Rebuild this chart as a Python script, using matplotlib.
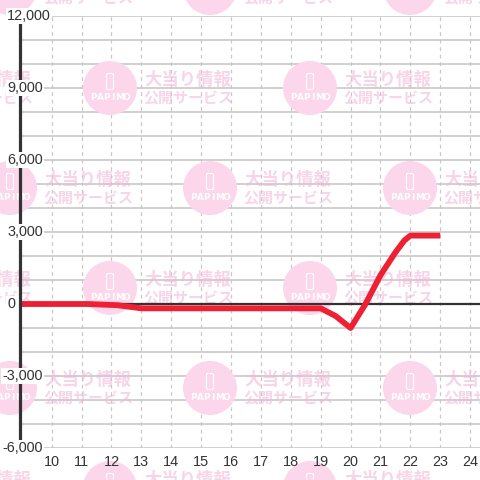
# -*- coding: utf-8 -*-

import numpy as np
from matplotlib import pyplot as plt
from matplotlib import transforms
from matplotlib.patches import Circle, FancyBboxPatch

# slump graph values (hour of day -> balance)
hours = [9, 11.2, 12.2, 13, 19, 19.5, 20, 20.5, 21, 21.5, 21.8, 22, 23]
values = [0, 0, -50, -180, -180, -500, -1000, 0, 1200, 2150, 2650, 2850, 2850]

x_ticks = list(range(10, 25))
y_ticks = [-6000, -3000, 0, 3000, 6000, 9000, 12000]
y_labels = ['-6,000', '-3,000', '0', '3,000', '6,000', '9,000', '12,000']

# watermark tiles (pixel centres of the circles)
wm_rows = [-12, 88, 188, 288, 388, 488]
wm_cols = {-12: [10, 210, 410], 88: [-90, 110, 310, 510], 188: [10, 210, 410],
           288: [-90, 110, 310, 510], 388: [10, 210, 410], 488: [-90, 110, 310]}
wm_line1 = '大当り情報'
wm_line2 = '公開サービス'
wm_logo = 'PAPIMO'


def slump_plot():
    plt.rcParams['font.family'] = ['Liberation Sans', 'DejaVu Sans']
    fig = plt.figure(figsize=(4.8, 4.8), dpi=100, facecolor='white')
    ax = fig.add_axes([20 / 480, 32 / 480, 460 / 480, 432 / 480])
    ax.set_facecolor('white')

    ax.set_xlim(8.94, 24.33)
    ax.set_ylim(-6000, 12000)

    # grid
    for y in range(-6000, 12001, 1000):
        ax.axhline(y, color='#c8c8c8', lw=1.2, zorder=0.5)
    for x in x_ticks:
        ax.axvline(x, color='#c8c8c8', lw=0.9, ls=(0, (3, 3)), zorder=0.5)

    # watermark, drawn in pixel coords (origin top-left)
    px = transforms.Affine2D().scale(1 / 100, -1 / 100).translate(0, 4.8) + fig.dpi_scale_trans
    for row in wm_rows:
        for cx in wm_cols[row]:
            ax.add_patch(Circle((cx, row), 27, transform=px, facecolor='#fcd6eb',
                                edgecolor='none', clip_on=False, zorder=1))
            ax.add_patch(FancyBboxPatch((cx - 3.5, row - 14.5), 7, 16, boxstyle='round,pad=0,rounding_size=1.5',
                                        transform=px, facecolor='none', edgecolor='white',
                                        lw=0.8, clip_on=False, zorder=1.1))
            for i, ch in enumerate(wm_logo):
                ax.text(cx - 16.5 + i * 6.6, row + 10, ch, transform=px, ha='center', va='center',
                        color='white', fontsize=6.5, fontweight='bold', family='DejaVu Sans',
                        clip_on=False, zorder=1.1)
            ax.text(cx + 78, row - 8, wm_line1, transform=px, ha='center', va='center',
                    color='#f2b8da', alpha=0.6, fontsize=12.5, fontweight='bold',
                    family=['Noto Sans CJK JP'], clip_on=False, zorder=1.1)
            ax.text(cx + 78, row + 10, wm_line2, transform=px, ha='center', va='center',
                    color='#f2b8da', alpha=0.6, fontsize=10.8, fontweight='bold',
                    family=['Noto Sans CJK JP'], clip_on=False, zorder=1.1)

    ax.axhline(0, color='#333333', lw=1.6, zorder=2)
    ax.plot(hours, values, color='#ee2034', lw=4.2, solid_joinstyle='round',
            solid_capstyle='butt', zorder=3)

    for s in ['top', 'right', 'bottom']:
        ax.spines[s].set_visible(False)
    ax.spines['left'].set_color('#333333')
    ax.spines['left'].set_linewidth(2.3)
    ax.spines['left'].set_zorder(4)

    ax.set_xticks(x_ticks)
    ax.set_xticklabels([str(x) for x in x_ticks])
    ax.tick_params(axis='x', length=0, pad=5, labelsize=10.4, labelcolor='#333333')
    ax.set_yticks([])

    # y labels sit over the spine with a white box
    ytr = ax.get_yaxis_transform()
    for v, lab in zip(y_ticks, y_labels):
        x0 = (2 - 20) / 460 if v < 0 else (7 - 20) / 460
        ax.text(x0, v, lab, transform=ytr, ha='left', va='center', fontsize=10.4,
                color='#333333', clip_on=False, zorder=5,
                bbox=dict(facecolor='white', edgecolor='none', pad=1.0))

    fig.savefig('out.png', dpi=100, facecolor='white')
    return fig


if __name__ == '__main__':
    slump_plot()
